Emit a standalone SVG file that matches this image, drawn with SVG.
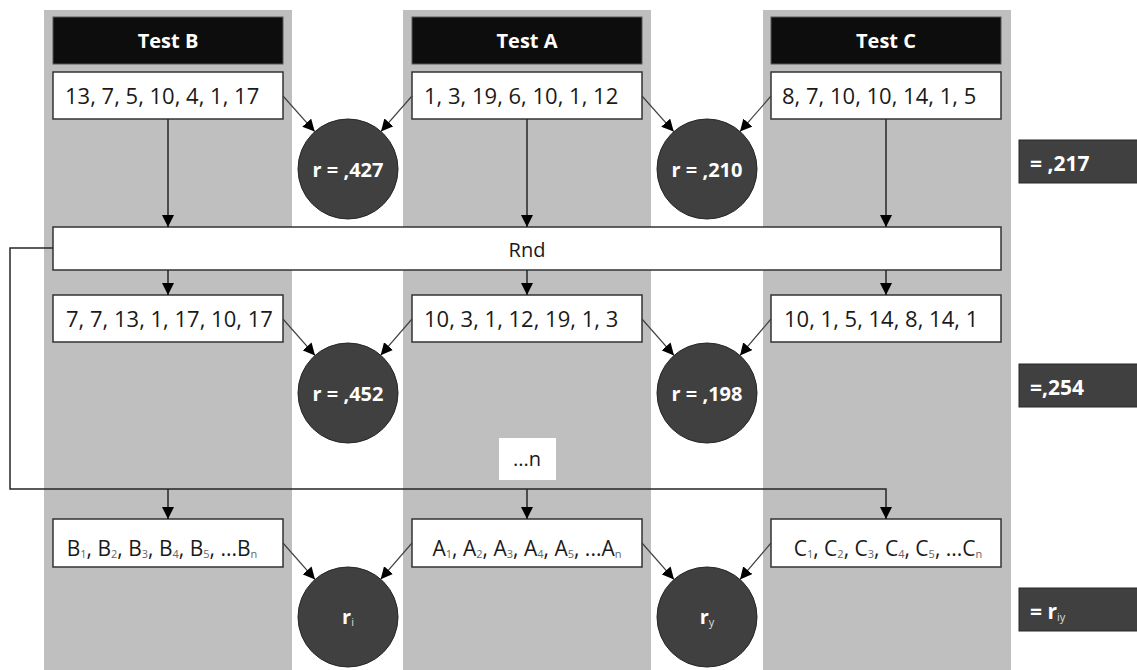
<svg xmlns="http://www.w3.org/2000/svg" width="1137" height="670" viewBox="0 0 1137 670">
<style>
text{font-family:"Open Sans","Liberation Sans",sans-serif}
.col{fill:#bfbfbf}
.hdr{fill:#0d0d0d;stroke:#595959;stroke-width:1}
.hdrt{fill:#fff;font-size:20px;font-weight:bold;text-anchor:middle}
.box{fill:#fff;stroke:#333;stroke-width:1.5}
.bt{fill:#1a1a1a;font-size:22px}
.btc{fill:#1a1a1a;font-size:20px;text-anchor:middle}
.bt3{fill:#1a1a1a;font-size:21px;text-anchor:middle}
.sub{font-size:11px;fill:#666}
.circ{fill:#404040;stroke:#262626;stroke-width:1}
.ct{fill:#fff;font-size:20px;font-weight:bold;text-anchor:middle}
.csub{font-size:11px;fill:#ddd;font-weight:normal}
.res{fill:#404040;stroke:#262626;stroke-width:1}
.rt{fill:#fff;font-size:21px;font-weight:bold}
.ln{fill:none;stroke:#262626;stroke-width:1.5}
.dg{fill:none;stroke:#404040;stroke-width:1.2}
</style>
<defs>
<marker id="ah" markerUnits="userSpaceOnUse" markerWidth="12" markerHeight="12" viewBox="0 0 10 10" refX="10" refY="5" orient="auto">
<path d="M0,0 L10,5 L0,10 z" fill="#000"/>
</marker>
</defs>
<rect width="1137" height="670" fill="#fff"/>
<g id="columns">
<rect class="col" x="44" y="10" width="248" height="660"/>
<rect class="col" x="403" y="10" width="248" height="660"/>
<rect class="col" x="763" y="10" width="248" height="660"/>
</g>
<g id="header-b"><rect class="hdr" x="53" y="17" width="230" height="47"/><text class="hdrt" x="168" y="48">Test B</text></g>
<g id="header-a"><rect class="hdr" x="412" y="17" width="230" height="47"/><text class="hdrt" x="527" y="48">Test A</text></g>
<g id="header-c"><rect class="hdr" x="771" y="17" width="230" height="47"/><text class="hdrt" x="886" y="48">Test C</text></g>

<g id="b1"><rect class="box" x="53" y="72" width="230" height="47"/><text class="bt" x="65" y="104">13, 7, 5, 10, 4, 1, 17</text></g>
<g id="a1"><rect class="box" x="412" y="72" width="230" height="47"/><text class="bt" x="424" y="104">1, 3, 19, 6, 10, 1, 12</text></g>
<g id="c1"><rect class="box" x="771" y="72" width="230" height="47"/><text class="bt" x="782" y="104">8, 7, 10, 10, 14, 1, 5</text></g>

<g id="r1"><circle class="circ" cx="348" cy="169" r="50"/><text class="ct" x="348" y="177">r = ,427</text></g>
<g id="r2"><circle class="circ" cx="707" cy="169" r="50"/><text class="ct" x="707" y="177">r = ,210</text></g>

<g id="rnd"><rect class="box" x="53" y="227" width="948" height="43"/><text class="btc" x="527" y="257">Rnd</text></g>

<g id="b2"><rect class="box" x="53" y="295" width="230" height="47"/><text class="bt" x="66" y="327">7, 7, 13, 1, 17, 10, 17</text></g>
<g id="a2"><rect class="box" x="412" y="295" width="230" height="47"/><text class="bt" x="424" y="327">10, 3, 1, 12, 19, 1, 3</text></g>
<g id="c2"><rect class="box" x="771" y="295" width="230" height="47"/><text class="bt" x="784" y="327">10, 1, 5, 14, 8, 14, 1</text></g>

<g id="r3"><circle class="circ" cx="348" cy="393" r="50"/><text class="ct" x="348" y="401">r = ,452</text></g>
<g id="r4"><circle class="circ" cx="707" cy="393" r="50"/><text class="ct" x="707" y="401">r = ,198</text></g>

<g id="n-label"><rect x="499" y="438" width="57" height="42" fill="#fff"/><text class="btc" x="527" y="466">...n</text></g>

<g id="b3"><rect class="box" x="53" y="519" width="230" height="48"/><text class="bt3" x="162" y="556">B<tspan class="sub" dy="2">1</tspan><tspan dy="-2">, B</tspan><tspan class="sub" dy="2">2</tspan><tspan dy="-2">, B</tspan><tspan class="sub" dy="2">3</tspan><tspan dy="-2">, B</tspan><tspan class="sub" dy="2">4</tspan><tspan dy="-2">, B</tspan><tspan class="sub" dy="2">5</tspan><tspan dy="-2">, ...B</tspan><tspan class="sub" dy="2">n</tspan></text></g>
<g id="a3"><rect class="box" x="412" y="519" width="230" height="48"/><text class="bt3" x="527" y="556">A<tspan class="sub" dy="2">1</tspan><tspan dy="-2">, A</tspan><tspan class="sub" dy="2">2</tspan><tspan dy="-2">, A</tspan><tspan class="sub" dy="2">3</tspan><tspan dy="-2">, A</tspan><tspan class="sub" dy="2">4</tspan><tspan dy="-2">, A</tspan><tspan class="sub" dy="2">5</tspan><tspan dy="-2">, ...A</tspan><tspan class="sub" dy="2">n</tspan></text></g>
<g id="c3"><rect class="box" x="771" y="519" width="230" height="48"/><text class="bt3" x="888" y="556">C<tspan class="sub" dy="2">1</tspan><tspan dy="-2">, C</tspan><tspan class="sub" dy="2">2</tspan><tspan dy="-2">, C</tspan><tspan class="sub" dy="2">3</tspan><tspan dy="-2">, C</tspan><tspan class="sub" dy="2">4</tspan><tspan dy="-2">, C</tspan><tspan class="sub" dy="2">5</tspan><tspan dy="-2">, ...C</tspan><tspan class="sub" dy="2">n</tspan></text></g>

<g id="r5"><circle class="circ" cx="348" cy="617" r="50"/><text class="ct" x="348" y="624">r<tspan class="csub" dy="2">i</tspan></text></g>
<g id="r6"><circle class="circ" cx="707" cy="617" r="50"/><text class="ct" x="707" y="624">r<tspan class="csub" dy="2">y</tspan></text></g>

<g id="res1"><rect class="res" x="1019" y="140" width="125" height="43"/><text class="rt" x="1030" y="171">= ,217</text></g>
<g id="res2"><rect class="res" x="1019" y="364" width="125" height="43"/><text class="rt" x="1030" y="395">=,254</text></g>
<g id="res3"><rect class="res" x="1019" y="588" width="125" height="43"/><text class="rt" x="1030" y="619">= r<tspan class="csub" dy="2">iy</tspan></text></g>

<g id="connectors">
<line class="ln" x1="168" y1="119" x2="168" y2="227" marker-end="url(#ah)"/>
<line class="ln" x1="527" y1="119" x2="527" y2="227" marker-end="url(#ah)"/>
<line class="ln" x1="886" y1="119" x2="886" y2="227" marker-end="url(#ah)"/>
<line class="ln" x1="168" y1="270" x2="168" y2="295" marker-end="url(#ah)"/>
<line class="ln" x1="527" y1="270" x2="527" y2="295" marker-end="url(#ah)"/>
<line class="ln" x1="886" y1="270" x2="886" y2="295" marker-end="url(#ah)"/>
<polyline class="ln" points="53,248 10,248 10,489 886,489 886,519" marker-end="url(#ah)"/>
<line class="ln" x1="168" y1="489" x2="168" y2="519" marker-end="url(#ah)"/>
<line class="ln" x1="527" y1="489" x2="527" y2="519" marker-end="url(#ah)"/>

<line class="dg" x1="283" y1="96" x2="314.7" y2="131.6" marker-end="url(#ah)"/>
<line class="dg" x1="412" y1="96" x2="381" y2="131.4" marker-end="url(#ah)"/>
<line class="dg" x1="642" y1="96" x2="673.7" y2="131.6" marker-end="url(#ah)"/>
<line class="dg" x1="771" y1="96" x2="740" y2="131.6" marker-end="url(#ah)"/>

<line class="dg" x1="283" y1="319" x2="315" y2="355.4" marker-end="url(#ah)"/>
<line class="dg" x1="412" y1="319" x2="380.7" y2="355.2" marker-end="url(#ah)"/>
<line class="dg" x1="642" y1="319" x2="674" y2="355.4" marker-end="url(#ah)"/>
<line class="dg" x1="771" y1="319" x2="740" y2="355.4" marker-end="url(#ah)"/>

<line class="dg" x1="283" y1="543" x2="315" y2="579.4" marker-end="url(#ah)"/>
<line class="dg" x1="412" y1="543" x2="380.7" y2="579.2" marker-end="url(#ah)"/>
<line class="dg" x1="642" y1="543" x2="674" y2="579.4" marker-end="url(#ah)"/>
<line class="dg" x1="771" y1="543" x2="740" y2="579.4" marker-end="url(#ah)"/>
</g>
</svg>
